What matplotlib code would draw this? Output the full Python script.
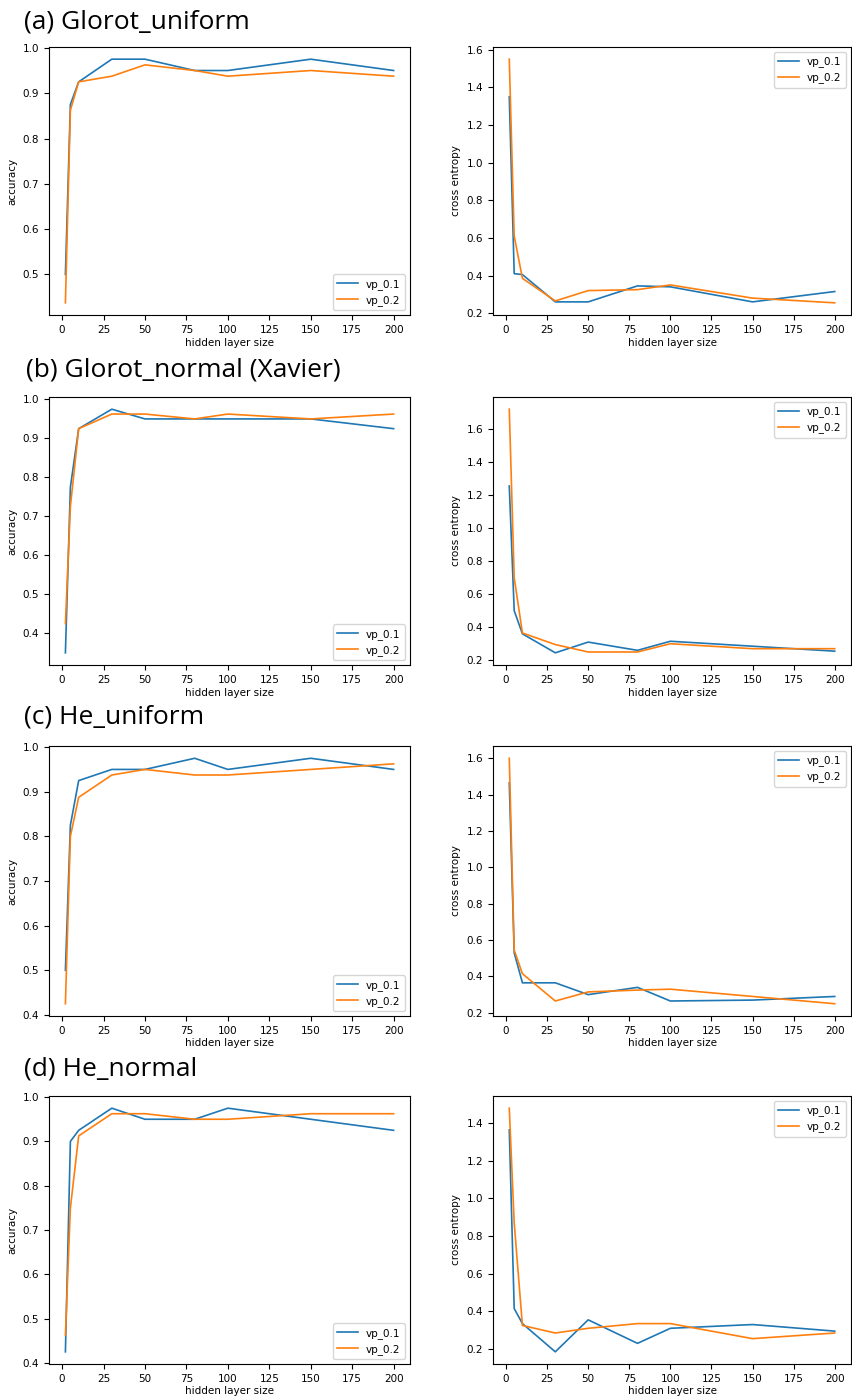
import numpy as np
import matplotlib
matplotlib.use("Agg")
import matplotlib.pyplot as plt

hidden = [2, 5, 10, 30, 50, 80, 100, 150, 200]

titles = ["(a) Glorot_uniform", "(b) Glorot_normal (Xavier)", "(c) He_uniform", "(d) He_normal"]

acc_vp1 = [
    [0.5, 0.875, 0.925, 0.975, 0.975, 0.95, 0.95, 0.975, 0.95],
    [0.35, 0.775, 0.925, 0.975, 0.95, 0.95, 0.95, 0.95, 0.925],
    [0.5, 0.825, 0.925, 0.95, 0.95, 0.975, 0.95, 0.975, 0.95],
    [0.425, 0.9, 0.925, 0.975, 0.95, 0.95, 0.975, 0.95, 0.925],
]
acc_vp2 = [
    [0.4375, 0.8625, 0.925, 0.9375, 0.9625, 0.95, 0.9375, 0.95, 0.9375],
    [0.425, 0.725, 0.925, 0.9625, 0.9625, 0.95, 0.9625, 0.95, 0.9625],
    [0.425, 0.8, 0.8875, 0.9375, 0.95, 0.9375, 0.9375, 0.95, 0.9625],
    [0.4625, 0.75, 0.9125, 0.9625, 0.9625, 0.95, 0.95, 0.9625, 0.9625],
]
ce_vp1 = [
    [1.35, 0.41, 0.405, 0.26, 0.26, 0.345, 0.34, 0.26, 0.315],
    [1.255, 0.5, 0.36, 0.245, 0.31, 0.26, 0.315, 0.285, 0.255],
    [1.465, 0.53, 0.365, 0.365, 0.3, 0.34, 0.265, 0.27, 0.29],
    [1.365, 0.415, 0.335, 0.185, 0.355, 0.23, 0.31, 0.33, 0.295],
]
ce_vp2 = [
    [1.55, 0.61, 0.385, 0.265, 0.32, 0.325, 0.35, 0.28, 0.255],
    [1.72, 0.7, 0.365, 0.295, 0.25, 0.25, 0.3, 0.27, 0.27],
    [1.6, 0.545, 0.415, 0.265, 0.315, 0.325, 0.33, 0.29, 0.25],
    [1.48, 0.87, 0.325, 0.285, 0.31, 0.335, 0.335, 0.255, 0.285],
]

W, H = 853, 1399
fig = plt.figure(figsize=(W / 100, H / 100), dpi=100)

# pixel boxes (top, bottom) for each row
rows = [(47, 315), (397, 665), (746, 1016), (1096, 1364)]
title_pos = [(24, 22), (26, 370), (24, 717), (24, 1069)]

def rect(x0, x1, top, bottom):
    return [x0 / W, 1 - bottom / H, (x1 - x0) / W, (bottom - top) / H]

fs = 7.5
for i, (top, bottom) in enumerate(rows):
    axl = fig.add_axes(rect(49, 410, top, bottom))
    axl.plot(hidden, acc_vp1[i], color="#1f77b4", lw=1.2, label="vp_0.1")
    axl.plot(hidden, acc_vp2[i], color="#ff7f0e", lw=1.2, label="vp_0.2")
    axl.set_ylabel("accuracy", fontsize=fs)
    axl.set_xlabel("hidden layer size", fontsize=fs)
    axl.legend(loc="lower right", fontsize=fs)

    axr = fig.add_axes(rect(493, 851, top, bottom))
    axr.plot(hidden, ce_vp1[i], color="#1f77b4", lw=1.2, label="vp_0.1")
    axr.plot(hidden, ce_vp2[i], color="#ff7f0e", lw=1.2, label="vp_0.2")
    axr.set_ylabel("cross entropy", fontsize=fs)
    axr.set_xlabel("hidden layer size", fontsize=fs)
    axr.legend(loc="upper right", fontsize=fs)

    for ax in (axl, axr):
        ax.tick_params(labelsize=fs)
        ax.set_xticks([0, 25, 50, 75, 100, 125, 150, 175, 200])
        ax.xaxis.labelpad = 2

    tx, ty = title_pos[i]
    fig.text(tx / W, 1 - ty / H, titles[i], fontsize=19, family="Open Sans",
             va="center", ha="left")

fig.savefig("out.png", dpi=100)
